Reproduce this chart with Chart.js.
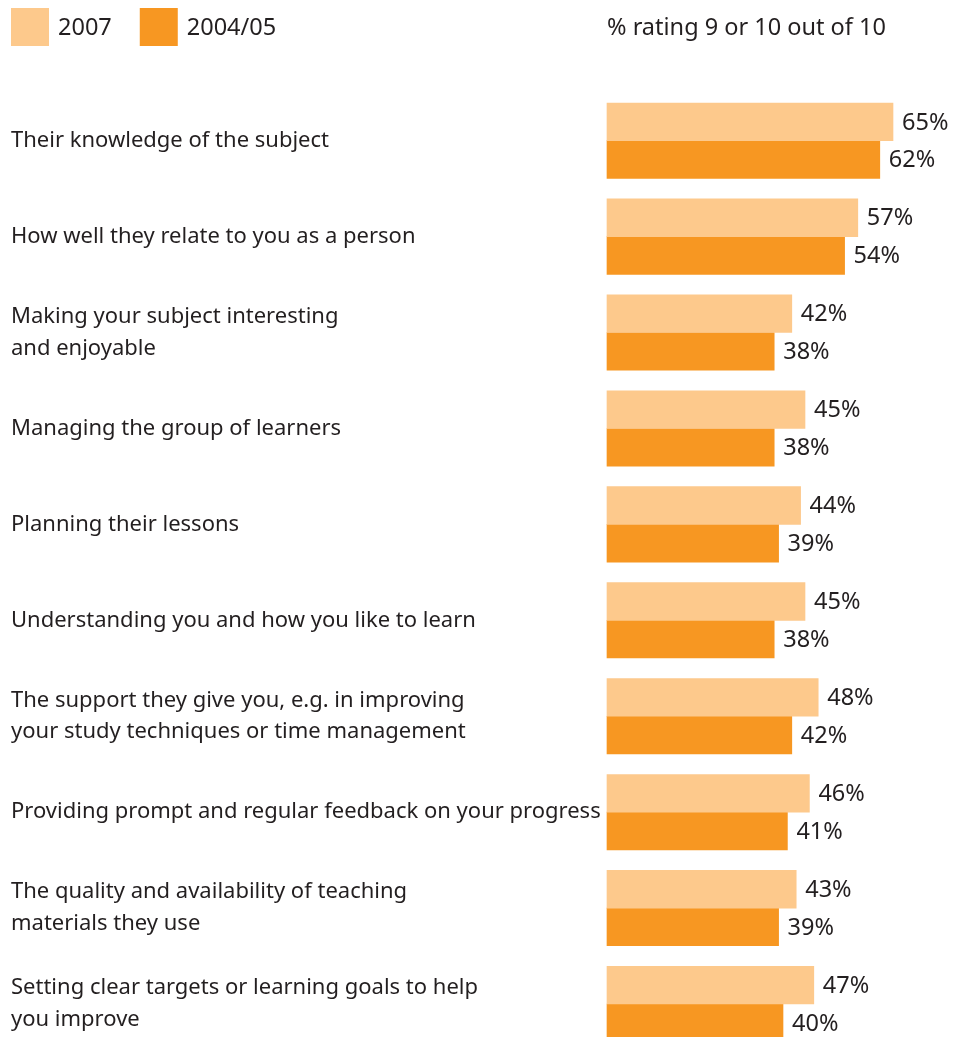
<!DOCTYPE html>
<html>
<head>
<meta charset="utf-8">
<script src="https://cdn.jsdelivr.net/npm/chart.js@4"></script>
<style>
  html, body { margin: 0; padding: 0; background: #fff; }
  #wrap { position: relative; width: 966px; height: 1037px; }
</style>
</head>
<body>
<div id="wrap"><canvas id="chart"></canvas></div>
<script>
const categories = [
  'Their knowledge of the subject',
  'How well they relate to you as a person',
  ['Making your subject interesting', 'and enjoyable'],
  'Managing the group of learners',
  'Planning their lessons',
  'Understanding you and how you like to learn',
  ['The support they give you, e.g. in improving', 'your study techniques or time management'],
  'Providing prompt and regular feedback on your progress',
  ['The quality and availability of teaching', 'materials they use'],
  ['Setting clear targets or learning goals to help', 'you improve']
];
const seriesNames = ['2007', '2004/05'];
const values2007 = [65, 57, 42, 45, 44, 45, 48, 46, 43, 47];
const values2004 = [62, 54, 38, 38, 39, 38, 42, 41, 39, 40];
const headerText = '% rating 9 or 10 out of 10';

const FONT = '"Noto Sans", sans-serif';
const TEXT = '#231f20';
const LIGHT = '#fdc98c';
const DARK = '#f79722';

// legend boxes + the note on the right, painted above the plot
const headerPlugin = {
  id: 'header',
  afterDraw(chart) {
    const ctx = chart.ctx;
    ctx.save();
    ctx.font = '23.5px ' + FONT;
    ctx.textBaseline = 'middle';
    ctx.textAlign = 'left';
    let x = 11;
    chart.data.datasets.forEach(ds => {
      ctx.fillStyle = ds.backgroundColor;
      ctx.fillRect(x, 8, 38, 38);
      ctx.fillStyle = TEXT;
      ctx.fillText(ds.label, x + 47, 28);
      x += 47 + ctx.measureText(ds.label).width + 28;
    });
    ctx.fillText(headerText, 607, 28);
    ctx.restore();
  }
};

// value labels at the end of each bar
const valueLabels = {
  id: 'valueLabels',
  afterDatasetsDraw(chart) {
    const ctx = chart.ctx;
    ctx.save();
    ctx.font = '23.5px ' + FONT;
    ctx.fillStyle = TEXT;
    ctx.textAlign = 'left';
    ctx.textBaseline = 'middle';
    chart.data.datasets.forEach((ds, di) => {
      chart.getDatasetMeta(di).data.forEach((bar, i) => {
        ctx.fillText(ds.data[i] + '%', bar.x + 9, bar.y + 1);
      });
    });
    ctx.restore();
  }
};

new Chart(document.getElementById('chart'), {
  type: 'bar',
  data: {
    labels: categories,
    datasets: [
      { label: seriesNames[0], data: values2007, backgroundColor: LIGHT, barThickness: 37.7, clip: false },
      { label: seriesNames[1], data: values2004, backgroundColor: DARK, barThickness: 37.7, clip: false }
    ]
  },
  options: {
    indexAxis: 'y',
    responsive: true,
    maintainAspectRatio: false,
    animation: false,
    layout: { padding: { left: 11, right: 7, top: 140.7, bottom: 33 } },
    plugins: {
      legend: { display: false },
      tooltip: { enabled: false }
    },
    scales: {
      x: { display: false, min: 0, max: 80 },
      y: {
        offset: false,
        grid: { display: false },
        border: { display: false },
        ticks: {
          crossAlign: 'far',
          padding: 0,
          color: TEXT,
          font: { family: FONT, size: 22, lineHeight: 1.45 }
        },
        afterFit(scale) { scale.width = 596; }
      }
    }
  },
  plugins: [headerPlugin, valueLabels]
});
</script>
</body>
</html>
